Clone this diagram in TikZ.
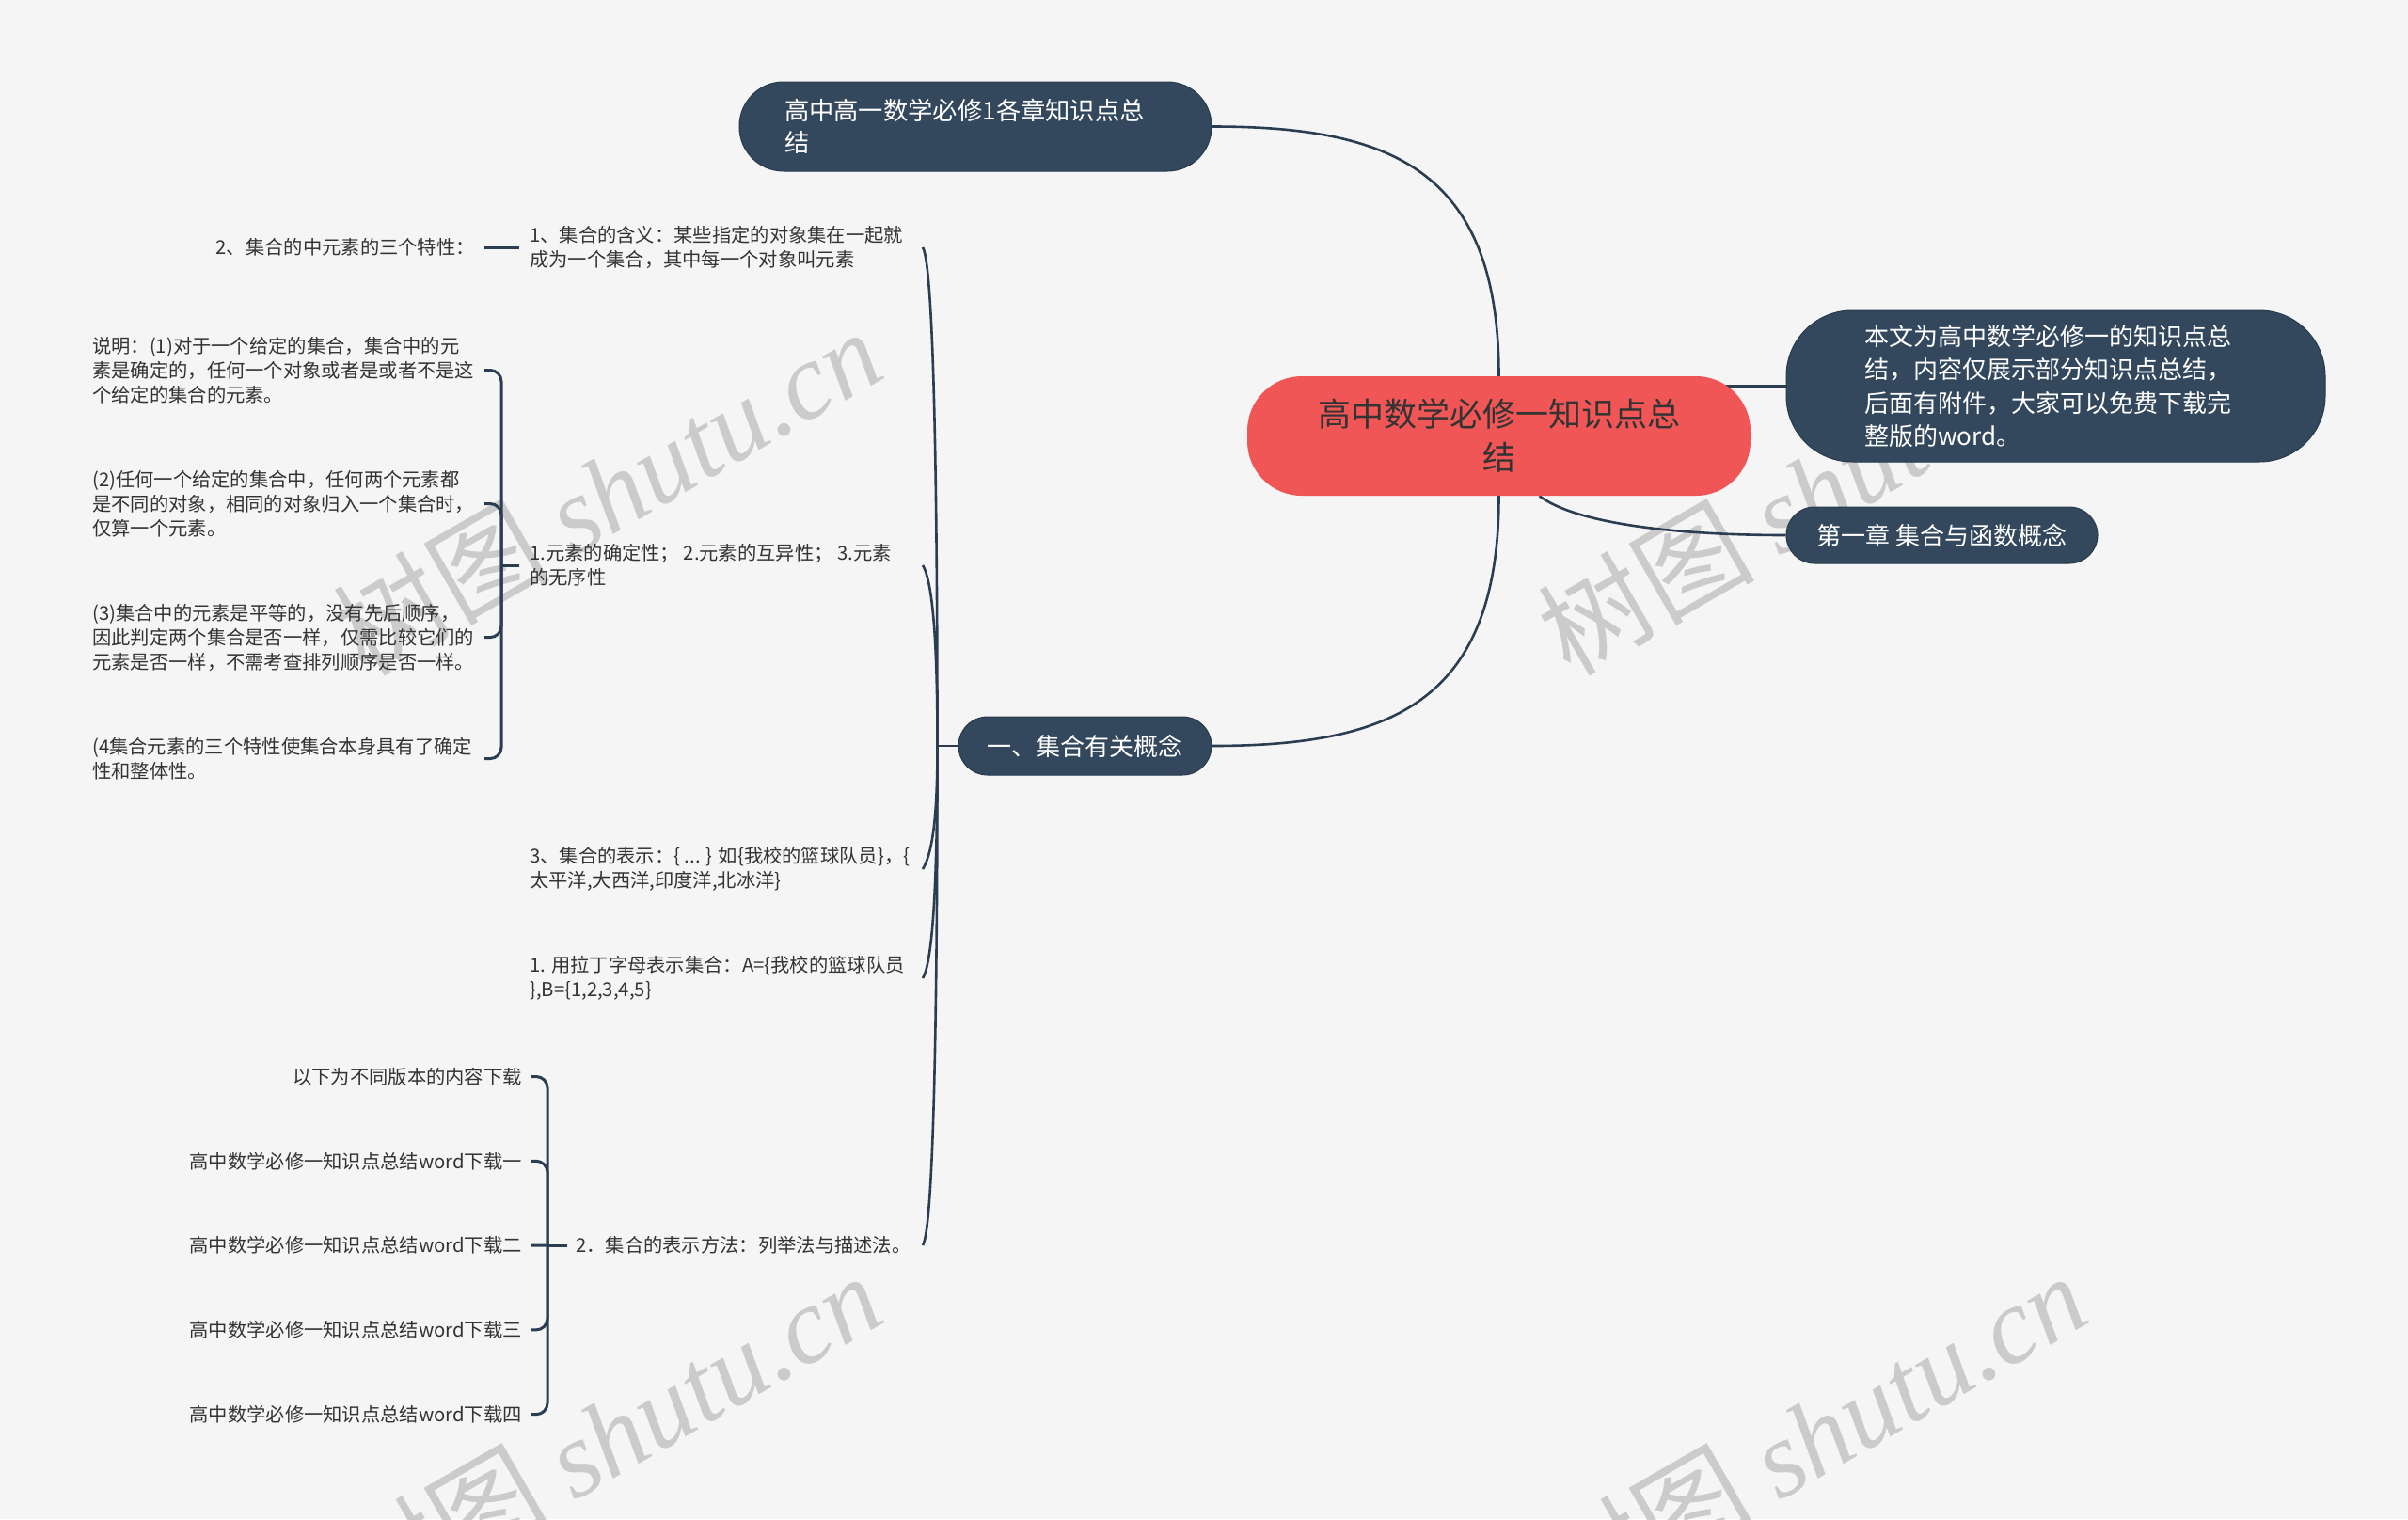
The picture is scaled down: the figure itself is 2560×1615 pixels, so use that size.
\documentclass[tikz,border=0pt]{standalone}
\usepackage{fontspec}
\setmainfont{Noto Sans CJK SC}
\newfontfamily\wmserif{Liberation Serif}
\usetikzlibrary{calc}
\definecolor{bgc}{HTML}{F5F5F5}
\definecolor{navy}{HTML}{33475D}
\definecolor{navyd}{HTML}{283A4D}
\definecolor{linec}{HTML}{2B3D51}
\definecolor{redc}{HTML}{F05656}
\definecolor{txt}{HTML}{333333}
\definecolor{wmc}{HTML}{CBCBCB}
\pgfdeclarelayer{bglayer}
\pgfdeclarelayer{wmlayer}
\pgfdeclarelayer{linelayer}
\pgfsetlayers{bglayer,wmlayer,linelayer,main}
\tikzset{
  topic/.style={draw=navyd, line width=1pt, fill=navy, text=white, inner sep=0pt, font=\fontsize{26}{35.5}\selectfont},
  sm/.style={inner sep=0pt, text=txt, align=left, font=\fontsize{20.3}{26}\selectfont},
  conn/.style={draw=linec, line width=2.6pt},
  brk/.style={draw=linec, line width=3pt, rounded corners=12pt},
  wm/.style={text=wmc, inner sep=0pt, font=\fontsize{115}{120}\selectfont}
}
\begin{document}
\begin{tikzpicture}[x=1pt,y=-1pt]
\useasboundingbox (0,0) rectangle (2560,1615);
\begin{pgfonlayer}{bglayer}
\fill[bgc] (0,0) rectangle (2560,1615);
\end{pgfonlayer}
\begin{pgfonlayer}{wmlayer}
\node[wm, rotate=30] (wm1) at (645,522) {树图 {\wmserif\itshape shutu.cn}};
\node[wm, rotate=30] (wm2) at (1926,522) {树图 {\wmserif\itshape shutu.cn}};
\node[wm, rotate=30] (wm3) at (645,1526) {树图 {\wmserif\itshape shutu.cn}};
\node[wm, rotate=30] (wm4) at (1926,1526) {树图 {\wmserif\itshape shutu.cn}};
\end{pgfonlayer}

% main nodes
\node[fill=redc, text=txt, inner sep=0pt, rounded corners=58pt, minimum width=535pt, minimum height=127pt, align=center, font=\fontsize{35}{46}\selectfont] (cen) at (1593.5,463.5) {高中数学必修一知识点总\\结};
\node[topic, rounded corners=47pt, minimum width=502pt, minimum height=95pt, text width=406pt, align=left, font=\fontsize{26.3}{34}\selectfont] (top) at (1037,134.5) {高中高一数学必修1各章知识点总\\结};
\node[topic, rounded corners=70pt, minimum width=573pt, minimum height=161pt, text width=407pt, align=left] (rn1) at (2185.5,410.5) {本文为高中数学必修一的知识点总\\结，内容仅展示部分知识点总结，\\后面有附件，大家可以免费下载完\\整版的word。};
\node[topic, rounded corners=30pt, minimum width=331pt, minimum height=60pt, align=center] (rn2) at (2064.5,569) {第一章 集合与函数概念};
\node[topic, rounded corners=31pt, minimum width=269pt, minimum height=62pt, align=center] (ln) at (1153.5,793) {一、集合有关概念};

% level 2
\node[sm, anchor=west] (c1) at (563,263) {1、集合的含义：某些指定的对象集在一起就\\成为一个集合，其中每一个对象叫元素};
\node[sm, anchor=west] (c2) at (563,601) {1.元素的确定性； 2.元素的互异性； 3.元素\\的无序性};
\node[sm, anchor=west] (c3) at (563,924) {3、集合的表示：\{ ... \} 如\{我校的篮球队员\}，\{\\太平洋,大西洋,印度洋,北冰洋\}};
\node[sm, anchor=west] (c4) at (563,1040) {1. 用拉丁字母表示集合：A=\{我校的篮球队员\\\},B=\{1,2,3,4,5\}};
\node[sm, anchor=west] (c5) at (612,1324) {2．集合的表示方法：列举法与描述法。};

% level 3
\node[sm, anchor=east] (c1a) at (505,263) {2、集合的中元素的三个特性：};
\node[sm, anchor=west] (c2a) at (98,393.5) {说明：(1)对于一个给定的集合，集合中的元\\素是确定的，任何一个对象或者是或者不是这\\个给定的集合的元素。};
\node[sm, anchor=west] (c2b) at (98,535.5) {(2)任何一个给定的集合中，任何两个元素都\\是不同的对象，相同的对象归入一个集合时，\\仅算一个元素。};
\node[sm, anchor=west] (c2c) at (98,677.6) {(3)集合中的元素是平等的，没有先后顺序，\\因此判定两个集合是否一样，仅需比较它们的\\元素是否一样，不需考查排列顺序是否一样。};
\node[sm, anchor=west] (c2d) at (98,806.6) {(4集合元素的三个特性使集合本身具有了确定\\性和整体性。};
\node[sm, anchor=east] (k1) at (555,1144.5) {以下为不同版本的内容下载};
\node[sm, anchor=east] (k2) at (555,1234.3) {高中数学必修一知识点总结word下载一};
\node[sm, anchor=east] (k3) at (555,1324.1) {高中数学必修一知识点总结word下载二};
\node[sm, anchor=east] (k4) at (555,1413.9) {高中数学必修一知识点总结word下载三};
\node[sm, anchor=east] (k5) at (555,1503.7) {高中数学必修一知识点总结word下载四};

\coordinate (sx) at (981,0);
\coordinate (bx2) at (515,0);
\coordinate (J0) at ($(ln.west)+(-22,0)$);
\coordinate (J2) at ($(c2.west)+(-30,0)$);
\coordinate (J5) at ($(c5.west)+(-30,0)$);

\begin{pgfonlayer}{linelayer}
\draw[conn] (cen.north) .. controls +(0,-220) and +(190,0) .. (top.east);
\draw[conn] (cen.south) .. controls +(0,220) and +(190,0) .. (ln.east);
\draw[conn] (cen.center |- rn1.west) -- (rn1.west);
\draw[conn] ($(cen.south)+(43,0)$) .. controls +(35,27) and +(-130,0) .. (rn2.west);
% spine
\draw[conn] (ln.west) -- (J0);
\draw[conn] (J0) .. controls +(0,-265) and +(12,20) .. (c1.west -| sx);
\draw[conn] (J0) .. controls +(0,-96) and +(12,20) .. (c2.west -| sx);
\draw[conn] (J0) .. controls +(0,65) and +(12,-20) .. (c3.west -| sx);
\draw[conn] (J0) .. controls +(0,124) and +(12,-20) .. (c4.west -| sx);
\draw[conn] (J0) .. controls +(0,265) and +(12,-20) .. (c5.west -| sx);
% c1 child
\draw[brk] ($(c1a.east)+(10,0)$) -- ($(c1.west)+(-11,0)$);
% c2 bracket
\draw[brk] ($(c2.west)+(-11,0)$) -- (J2);
\draw[brk] (J2) |- (c2a.east -| bx2);
\draw[brk] (J2) |- (c2b.east -| bx2);
\draw[brk] (J2) |- (c2c.east -| bx2);
\draw[brk] (J2) |- (c2d.east -| bx2);
% c5 bracket
\draw[brk] ($(c5.west)+(-9,0)$) -- (J5);
\draw[brk] (J5) |- ($(k1.east)+(9,0)$);
\draw[brk] (J5) |- ($(k2.east)+(9,0)$);
\draw[brk] (J5) -- ($(k3.east)+(9,0)$);
\draw[brk] (J5) |- ($(k4.east)+(9,0)$);
\draw[brk] (J5) |- ($(k5.east)+(9,0)$);
\end{pgfonlayer}
\end{tikzpicture}
\end{document}
